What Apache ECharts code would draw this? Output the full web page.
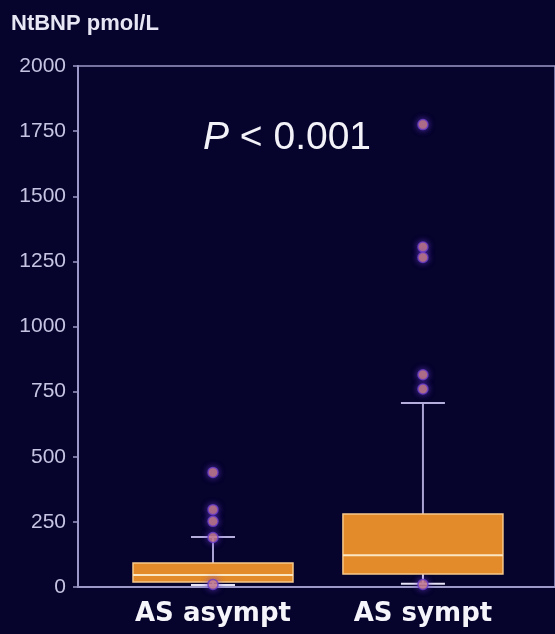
<!DOCTYPE html>
<html>
<head>
<meta charset="utf-8">
<script src="https://cdn.jsdelivr.net/npm/echarts@6/dist/echarts.min.js"></script>
<style>
  html, body { margin: 0; padding: 0; background: #06042c; }
  #main { width: 555px; height: 634px; }
</style>
</head>
<body>
<div id="main"></div>
<script>
// 分组名称
var groups = ['AS asympt', 'AS sympt'];
// 箱线图数据: [下须, Q1, 中位数, Q3, 上须]
var boxStats = [
    [8, 19, 46, 92, 192],
    [12, 50, 122, 280, 706]
];
// 离群点
var outlierAsympt = [440, 297, 252, 190, 10];
var outlierSympt = [1775, 1305, 1265, 815, 760, 10];
var yTicks = [0, 250, 500, 750, 1000, 1250, 1500, 1750, 2000];

var myChart = echarts.init(document.getElementById('main'));

var boxData = boxStats.map(function (s, i) {
    return [i].concat(s);
});
var outliers = [];
outlierAsympt.forEach(function (v) { outliers.push([0, v]); });
outlierSympt.forEach(function (v) { outliers.push([1, v]); });

var axisColor = '#9c98c8';

function renderBox(params, api) {
    var x = api.value(0);
    var lo = api.coord([x, api.value(1)]);
    var q1 = api.coord([x, api.value(2)]);
    var med = api.coord([x, api.value(3)]);
    var q3 = api.coord([x, api.value(4)]);
    var hi = api.coord([x, api.value(5)]);
    var half = 80, cap = 22;
    var cx = lo[0];
    return {
        type: 'group',
        children: [
            { type: 'line', shape: { x1: cx, y1: q3[1], x2: cx, y2: hi[1] },
              style: { stroke: '#aaa4d4', lineWidth: 2 } },
            { type: 'line', shape: { x1: cx - cap, y1: hi[1], x2: cx + cap, y2: hi[1] },
              style: { stroke: '#b4aedc', lineWidth: 2 } },
            { type: 'line', shape: { x1: cx, y1: q1[1], x2: cx, y2: lo[1] },
              style: { stroke: '#d8d4f0', lineWidth: 2 } },
            { type: 'line', shape: { x1: cx - cap, y1: lo[1], x2: cx + cap, y2: lo[1] },
              style: { stroke: '#e6e2f6', lineWidth: 2 } },
            { type: 'rect', shape: { x: cx - half, y: q3[1], width: half * 2, height: q1[1] - q3[1] },
              style: { fill: '#e38b2a', stroke: '#f6c98a', lineWidth: 1.5 } },
            { type: 'line', shape: { x1: cx - half, y1: med[1], x2: cx + half, y2: med[1] },
              style: { stroke: '#fbe6c4', lineWidth: 2 } }
        ]
    };
}

var option = {
    backgroundColor: '#06042c',
    animation: false,
    title: [{
        text: 'NtBNP pmol/L',
        left: 6,
        top: 8,
        textStyle: { color: '#e6e6f4', fontSize: 22, fontWeight: 'bold', fontFamily: 'Liberation Sans' }
    }, {
        text: '{i|P} < 0.001',
        left: 198,
        top: 114,
        textStyle: {
            color: '#f2f2f8', fontSize: 39, fontWeight: 'normal', fontFamily: 'Liberation Sans',
            rich: { i: { fontStyle: 'italic', fontSize: 39, color: '#f2f2f8', fontFamily: 'Liberation Sans' } }
        }
    }],
    grid: {
        left: 78, right: 0, top: 66, bottom: 47,
        show: true, borderColor: axisColor, borderWidth: 1.5, backgroundColor: 'transparent'
    },
    xAxis: {
        type: 'value',
        min: -0.643,
        max: 1.629,
        splitLine: { show: false },
        axisTick: { show: false },
        axisLine: { show: true, lineStyle: { color: axisColor, width: 2 } },
        axisLabel: {
            customValues: [0, 1],
            margin: 14,
            color: '#f4f4fa',
            fontSize: 26,
            fontWeight: 'bold',
            fontFamily: 'DejaVu Sans',
            formatter: function (v) { return groups[Math.round(v)]; }
        }
    },
    yAxis: {
        type: 'value',
        min: 0,
        max: 2000,
        interval: 250,
        splitLine: { show: false },
        axisLine: { show: true, onZero: false, lineStyle: { color: axisColor, width: 2 } },
        axisTick: { show: true, length: 5, lineStyle: { color: axisColor, width: 1.5 } },
        axisLabel: {
            color: '#c6c4e2', fontSize: 21, margin: 12, fontFamily: 'Liberation Sans',
            formatter: function (v) { return yTicks.indexOf(v) >= 0 ? String(v) : ''; }
        }
    },
    series: [{
        type: 'custom',
        renderItem: renderBox,
        data: boxData,
        encode: { x: 0, y: [1, 2, 3, 4, 5] },
        z: 2
    }, {
        type: 'scatter',
        data: outliers,
        symbolSize: 10,
        itemStyle: {
            color: '#d98c7c',
            borderColor: '#6a3cc8',
            borderWidth: 1.5,
            shadowBlur: 6,
            shadowColor: 'rgba(110,60,220,0.8)'
        },
        z: 3
    }]
};
myChart.setOption(option);
</script>
</body>
</html>
